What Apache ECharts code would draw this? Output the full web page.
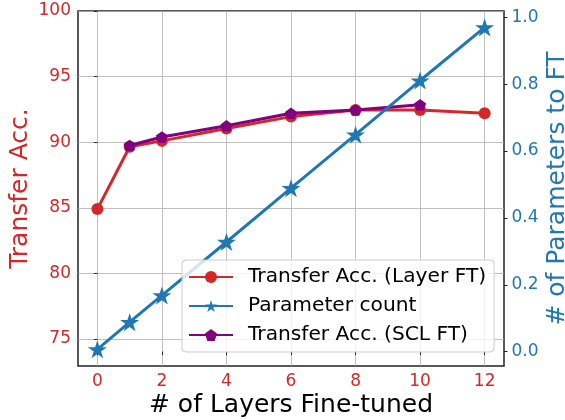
<!DOCTYPE html>
<html>
<head>
<meta charset="utf-8">
<script src="https://cdn.jsdelivr.net/npm/echarts@6/dist/echarts.min.js"></script>
<style>
  html, body { margin: 0; padding: 0; background: #ffffff; }
  #chart { width: 565px; height: 420px; }
</style>
</head>
<body>
<div id="chart"></div>
<script>
// Number of fine-tuned layers and the measured results
const layers = [0, 1, 2, 4, 6, 8, 10, 12];
const accLayerFT = [84.9, 89.65, 90.1, 91.05, 91.95, 92.45, 92.45, 92.2];
const paramCount = [0.007, 0.088, 0.168, 0.328, 0.489, 0.649, 0.811, 0.970];
const sclLayers = [1, 2, 4, 6, 8, 10];
const accSCLFT = [89.75, 90.4, 91.25, 92.2, 92.45, 92.85];

// Tick positions
const xTicks = [0, 2, 4, 6, 8, 10, 12];
const accTicks = [75, 80, 85, 90, 95, 100];
const paramTicks = [0, 0.2, 0.4, 0.6, 0.8, 1.0];

const RED = '#d62728';
const BLUE = '#1f77b4';
const PURPLE = '#800080';
const FONT = 'DejaVu Sans';

// Regular polygon / star outlines used as marker shapes
function polygonPath(n, innerRatio) {
  const pts = [];
  const count = innerRatio ? n * 2 : n;
  for (let i = 0; i < count; i++) {
    const r = innerRatio && i % 2 === 1 ? innerRatio : 1;
    const a = -Math.PI / 2 + i * Math.PI * 2 / count;
    pts.push((r * Math.cos(a)).toFixed(4) + ',' + (r * Math.sin(a)).toFixed(4));
  }
  return 'path://M' + pts.join(' L') + ' Z';
}
const STAR = polygonPath(5, 0.382);
const PENTAGON = polygonPath(5, 0);

const pairs = (xs, ys) => xs.map((x, i) => [x, ys[i]]);

const chart = echarts.init(document.getElementById('chart'), null, { renderer: 'canvas' });

chart.setOption({
  animation: false,
  backgroundColor: '#ffffff',
  grid: {
    left: 78, right: 61, top: 11, bottom: 54,
    outerBoundsMode: 'none', containLabel: false,
    show: true, borderColor: '#222222', borderWidth: 1.5, backgroundColor: 'transparent'
  },
  xAxis: {
    type: 'value', min: -0.6, max: 12.6,
    name: '# of Layers Fine-tuned', nameLocation: 'middle', nameGap: 27, nameMoveOverlap: false,
    nameTextStyle: { color: '#000000', fontFamily: FONT, fontSize: 25 },
    axisLine: { show: false },
    axisTick: { show: true, inside: false, length: 3.5, customValues: xTicks, lineStyle: { color: '#222222', width: 1 } },
    axisLabel: { customValues: xTicks, color: RED, fontFamily: FONT, fontSize: 17, margin: 7 },
    splitLine: { show: true, lineStyle: { color: '#b0b0b0', width: 0.8 } }
  },
  yAxis: [
    {
      type: 'value', position: 'left', min: 72.94, max: 100,
      name: 'Transfer Acc.', nameLocation: 'middle', nameGap: 45, nameMoveOverlap: false,
      nameTextStyle: { color: RED, fontFamily: FONT, fontSize: 25 },
      axisLine: { show: false },
      axisTick: { show: true, length: 3.5, customValues: accTicks, lineStyle: { color: '#222222', width: 1 } },
      axisLabel: { customValues: accTicks, color: RED, fontFamily: FONT, fontSize: 17, margin: 7 },
      splitLine: { show: true, lineStyle: { color: '#b0b0b0', width: 0.8 } }
    },
    {
      type: 'value', position: 'right', min: -0.043, max: 1.019,
      name: '# of Parameters to FT', nameLocation: 'middle', nameGap: 41, nameRotate: 90, nameMoveOverlap: false,
      nameTextStyle: { color: BLUE, fontFamily: FONT, fontSize: 25 },
      axisLine: { show: false },
      axisTick: { show: true, length: 3.5, customValues: paramTicks, lineStyle: { color: '#222222', width: 1 } },
      axisLabel: {
        customValues: paramTicks, color: BLUE, fontFamily: FONT, fontSize: 17, margin: 7.5,
        formatter: v => v.toFixed(1)
      },
      splitLine: { show: false }
    }
  ],
  legend: {
    data: ['Transfer Acc. (Layer FT)', 'Parameter count', 'Transfer Acc. (SCL FT)'],
    orient: 'vertical', left: 182, top: 260,
    itemWidth: 44, itemHeight: 15, itemGap: 9,
    padding: [7, 8, 7, 6],
    backgroundColor: 'rgba(255,255,255,0.8)',
    borderColor: '#cccccc', borderWidth: 1, borderRadius: 4,
    textStyle: { fontFamily: FONT, fontSize: 20.2, color: '#000000', lineHeight: 20, padding: [0, 0, 0, 10] },
    z: 10
  },
  series: [
    {
      name: 'Transfer Acc. (Layer FT)', type: 'line', yAxisIndex: 0, z: 2,
      data: pairs(layers, accLayerFT),
      symbol: 'circle', symbolSize: 12,
      lineStyle: { color: RED, width: 3 },
      itemStyle: { color: RED },
      emphasis: { disabled: true }
    },
    {
      name: 'Transfer Acc. (SCL FT)', type: 'line', yAxisIndex: 0, z: 3,
      data: pairs(sclLayers, accSCLFT),
      symbol: PENTAGON, symbolSize: 12, symbolKeepAspect: true,
      lineStyle: { color: PURPLE, width: 3 },
      itemStyle: { color: PURPLE },
      emphasis: { disabled: true }
    },
    {
      name: 'Parameter count', type: 'line', yAxisIndex: 1, z: 4,
      data: pairs(layers, paramCount),
      symbol: STAR, symbolSize: 19, symbolKeepAspect: true,
      lineStyle: { color: BLUE, width: 3 },
      itemStyle: { color: BLUE },
      emphasis: { disabled: true }
    }
  ]
});
</script>
</body>
</html>
